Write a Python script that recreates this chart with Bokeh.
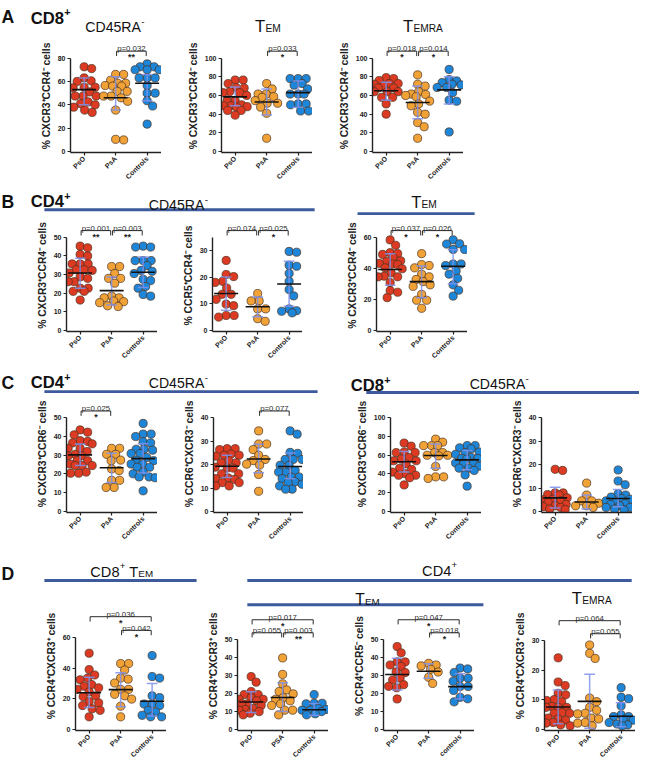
import math
from bokeh.plotting import figure
from bokeh.models import Range1d, FixedTicker, Spacer
from bokeh.layouts import row, column
from bokeh.core.properties import value
from bokeh.embed import file_html
from bokeh.resources import INLINE

SC = 0.975


def S(v):
    return int(round(v * SC))


FONT = "Liberation Sans"
INK = "#222222"
COLORS = ["#dc3a22", "#f0a236", "#1e86d8"]
EDGE = "#4a3020"
ERR_COLOR = "#7f92ec"
RULE = "#3c5a9c"

GROUPS = ["PsO", "PsA", "Controls"]

# ------------------------------------------------------------------ data
# Panel A (CD8+)
A1_PsO = [72.5, 71, 63, 60.5, 60, 55, 55, 54.5, 51, 47.5, 47.5, 47.5, 42.5, 41, 40, 38, 35.5, 33.5]
A1_PsA = [66, 66, 61, 58.5, 58.5, 56.5, 56, 56, 51.5, 51.5, 47.5, 47.5, 46, 43, 35.5, 10, 10.5]
A1_Ctrl = [75, 72.5, 72.5, 70, 70, 70, 63, 63, 63, 56.5, 50, 50, 43.5, 39, 23.5]
A1_mean = [53, 46, 58.5]
A1_lo = [40, 35.5, 43.5]
A1_hi = [63, 64, 66]

A2_PsO = [76.5, 76.5, 72.7, 68.5, 68, 64, 63, 63, 60, 54.5, 54.5, 50, 49, 49, 48, 47.5, 44, 44, 39]
A2_PsA = [72.7, 67, 61.5, 61.5, 58.7, 58, 54.5, 51.7, 51.7, 47.5, 41, 14.3]
A2_Ctrl = [78, 78, 78, 72.7, 71, 67, 61.5, 61.5, 61.5, 51, 51, 50, 43.4, 43.4]
A2_mean = [58.5, 53, 63]
A2_lo = [49, 39, 47.5]
A2_hi = [69, 67, 75.5]

A3_PsO = [79, 78, 76, 72.7, 72.7, 72, 70, 68, 68, 64, 64, 64, 58, 58, 51, 40]
A3_PsA = [82, 72, 70, 64, 61.5, 61, 60, 58.7, 54, 51, 49, 42, 40, 31, 26.6, 14.3]
A3_Ctrl = [87.8, 77, 75.5, 73.8, 72, 71.3, 68.5, 68.5, 63, 55, 53.8, 21]
A3_mean = [65, 52.5, 66]
A3_lo = [55, 35, 51]
A3_hi = [74, 70, 80]

# Panel B (CD4+)
B1_PsO = [45.3, 44.4, 40.8, 40, 35.7, 35.7, 35.7, 32.6, 32.6, 32.2, 30.8, 28.7, 27.9, 26.1, 26.1, 22.6, 22.6, 20.9, 20.9, 16.2]
B1_PsA = [34.3, 34.3, 30.5, 27.9, 27.9, 25.3, 18.3, 17.4, 17.4, 15.7, 15.3, 14.8, 13.1, 12.7]
B1_Ctrl = [45.3, 44.8, 44.8, 37.5, 37.5, 37.5, 34.8, 32.2, 31.7, 30.5, 27.4, 26.7, 23.5, 22.6, 19.2, 18.3]
B1_mean = [30.8, 21.3, 31.2]
B1_lo = [22.6, 13.5, 23]
B1_hi = [38.7, 28.7, 39.5]

B2_PsO = [26.3, 21, 20.2, 18.4, 18, 15.9, 13.5, 13.5, 11.6, 9.8, 9.2, 5.5, 5.5, 4.9]
B2_PsA = [13.8, 11, 11, 8, 8, 4.3, 3.3]
B2_Ctrl = [29.7, 29.4, 24.5, 24.1, 21.4, 18.4, 15.3, 12.9, 8, 7.3, 7.1, 6.5]
B2_mean = [13.8, 8.8, 17.4]
B2_lo = [7.5, 5, 9]
B2_hi = [20, 12.5, 26]

B3_PsO = [58.4, 54.9, 50.1, 49.5, 49, 47, 44.9, 44.5, 43.2, 42.8, 42.4, 40.3, 39.7, 37, 34.9, 34.5, 34.5, 30.8, 25.6, 24.5, 21]
B3_PsA = [49.5, 42.4, 41.8, 40.3, 36.2, 34.5, 32.8, 31.4, 29.3, 28.3, 23.1, 19.3, 19.3, 14.1]
B3_Ctrl = [58.4, 55.9, 55.7, 52.2, 52.2, 42.8, 42.8, 41.8, 38.3, 36.2, 33.5, 29.3, 25.8, 22]
B3_mean = [39.2, 31.4, 41.3]
B3_lo = [29, 21, 30]
B3_hi = [49.5, 41.5, 52]

# Panel C
C1_PsO = [43.5, 42.3, 40.9, 37.8, 37.4, 36.6, 36.1, 33.7, 33.7, 32, 30.5, 29.7, 29.7, 27.1, 27.1, 25.3, 24.5, 24.5, 24.5, 21, 20.4, 20.4]
C1_PsA = [33.7, 33.7, 30.5, 30.5, 27.4, 27.1, 22.7, 21.8, 16.6, 16.6, 12.8, 12.8]
C1_Ctrl = [47, 41.3, 41.3, 40, 37.2, 36.6, 33.2, 33.2, 32.7, 30.9, 30.9, 28.8, 27.4, 27.1, 25.3, 25.3, 23.6, 23.6, 21, 20.1, 18.4, 18.4, 18, 11]
C1_mean = [30.2, 23.3, 28.2]
C1_lo = [24.5, 15.5, 20.5]
C1_hi = [36, 31, 36.2]

C2_PsO = [26.8, 26.8, 26.4, 24.5, 24, 24, 23.6, 21.7, 20.8, 20.8, 18.9, 18.5, 18.5, 16.1, 16.1, 14.3, 14, 13.7, 12.3, 12.3, 10.9, 10.9]
C2_PsA = [34.4, 28.8, 28.8, 26.4, 24, 22.2, 21.7, 20.2, 19.8, 15.8, 8.6]
C2_Ctrl = [34.4, 33, 25.2, 24.8, 22.2, 22.2, 22.2, 19.7, 19.7, 17.5, 16.8, 16.8, 14.7, 14.7, 14, 12.6, 12.3, 11.6, 10.9, 9.5, 9.5]
C2_mean = [19.3, 22.4, 19.2]
C2_lo = [14.5, 16.5, 14]
C2_hi = [24, 28.7, 25]

C3_PsO = [73, 69.7, 63.4, 62.8, 62.8, 57.6, 55.9, 54.1, 54.1, 50.7, 46, 44.8, 42, 40.3, 38.6, 38.6, 35.9, 28.3]
C3_PsA = [77.2, 74, 70.3, 70.3, 70.3, 62.8, 62.8, 60, 60, 59.3, 48, 36.9, 36.9, 35.2]
C3_Ctrl = [70.3, 70.3, 67.9, 66.9, 63.4, 62.8, 61, 57.6, 56.6, 56.6, 55.9, 51.7, 51.7, 50.7, 48.3, 46.2, 46.2, 43.8, 39, 27]
C3_mean = [53, 59.8, 55]
C3_lo = [42, 46, 44.5]
C3_hi = [64, 72, 65]

C4_PsO = [18, 17.5, 7.9, 7.9, 7.2, 7, 5.8, 5.2, 5, 4.5, 3.8, 3, 2.4, 2, 1.7, 1, 0.8]
C4_PsA = [12.1, 7, 4.5, 4.5, 3.5, 2.4, 2.4, 1.7]
C4_Ctrl = [17.7, 13, 11.4, 7.5, 7, 6.1, 5.5, 5.2, 4.5, 3.8, 3.3, 3, 2.4, 1.7, 1.7, 1, 0.6]
C4_mean = [5.8, 4, 5.5]
C4_lo = [1.5, 1, 2]
C4_hi = [10.3, 7, 9.4]

# Panel D
D1_PsO = [49.6, 39, 35.5, 33.5, 32.4, 29.3, 28.2, 27.2, 26.2, 24.5, 22, 21.5, 18.2, 17.4, 15.7, 13.6, 12.6, 8.4]
D1_PsA = [42.9, 42.9, 38.7, 33.5, 32.8, 30.3, 26.2, 26.2, 23, 22, 19.9, 15.3, 8.4]
D1_Ctrl = [48.1, 34.5, 33.5, 22, 20.9, 16.7, 16.7, 15.7, 12.6, 11.5, 9.4, 8.4, 8.4]
D1_mean = [24, 26, 18.5]
D1_lo = [14.5, 15, 9]
D1_hi = [34, 37, 30]

D2_PsO = [29.4, 26.3, 21.1, 19.4, 19.4, 17.7, 16.8, 16.8, 16, 14.3, 14.3, 13.4, 11.7, 11.2, 10.8, 10, 9.1, 8.2]
D2_PsA = [39.7, 30.6, 25.4, 22, 21.1, 19.8, 17.7, 16.8, 16, 14.3, 13.4, 10.8, 10.8, 8.2]
D2_Ctrl = [19.4, 14.6, 14.6, 14.3, 11.7, 11.2, 10.8, 10.8, 10, 8.8, 8.2]
D2_mean = [15.3, 17.8, 11]
D2_lo = [9.5, 10, 8]
D2_hi = [21, 26, 14.5]

D3_PsO = [46, 42.5, 37.5, 37.5, 35.8, 35, 32, 31.6, 28.5, 27.5, 24.9, 24, 23.2, 17]
D3_PsA = [36.7, 35.8, 35.3, 33.4, 31.9, 29, 25.6]
D3_Ctrl = [34.1, 33.6, 31.6, 28.5, 28.5, 26.8, 23.9, 23.9, 21.7, 17.9, 17.1, 15.4]
D3_mean = [30.5, 32.3, 23.8]
D3_lo = [22, 28.5, 17]
D3_hi = [39.5, 36.5, 31]

D4_PsO = [24.1, 16, 14.8, 12.2, 11.7, 10.1, 9.8, 9.4, 7.8, 7.5, 7.5, 7.5, 5.7, 5.5, 5.5, 3.9, 3.6, 3.2, 2.4, 2.2, 1.6, 1.3]
D4_PsA = [28.4, 25.6, 23.9, 10.6, 9.4, 7.5, 6.5, 5.5, 5.3, 3.9, 3.6, 2.4, 2.2, 1.3]
D4_Ctrl = [14.1, 10.9, 10.4, 8, 5, 4.4, 4.4, 3.4, 3.2, 2.4, 1.9, 1.6, 1.3]
D4_mean = [7.6, 9.5, 4.5]
D4_lo = [2, 0.5, 1]
D4_hi = [13.3, 18.6, 9]

# tick sets
T80 = [0, 20, 40, 60, 80]
T100 = [0, 20, 40, 60, 80, 100]
T50 = [0, 10, 20, 30, 40, 50]
T30 = [0, 10, 20, 30]
T40 = [0, 10, 20, 30, 40]
T60 = [0, 20, 40, 60]

# brackets: (group i, group j, tier, p text, stars)
A1_br = [(2, 3, 0, "p=0.032", "**")]
A2_br = [(2, 3, 0, "p=0.033", "*")]
A3_br = [(1, 2, 0, "p=0.018", "*"), (2, 3, 0, "p=0.014", "*")]
B1_br = [(1, 2, 0, "p=0.001", "**"), (2, 3, 0, "p=0.003", "**")]
B2_br = [(1, 2, 0, "p=0.074", ""), (2, 3, 0, "p=0.025", "*")]
B3_br = [(1, 2, 0, "p=0.037", "*"), (2, 3, 0, "p=0.026", "*")]
C1_br = [(1, 2, 0, "p=0.025", "*")]
C2_br = [(2, 3, 0, "p=0.077", "")]
D1_br = [(1, 3, 1, "p=0.036", "*"), (2, 3, 0, "p=0.042", "*")]
D2_br = [(1, 3, 1, "p=0.017", "*"), (1, 2, 0, "p=0.055", ""), (2, 3, 0, "p=0.003", "**")]
D3_br = [(1, 3, 1, "p=0.047", "*"), (2, 3, 0, "p=0.018", "*")]
D4_br = [(1, 3, 1, "p=0.064", ""), (2, 3, 0, "p=0.055", "")]

LBL_X3R4 = "% CXCR3\u207aCCR4\u207b cells"
LBL_R5R4 = "% CCR5\u207aCCR4\u207b cells"
LBL_X3R6 = "% CXCR3\u207aCCR6\u207b cells"
LBL_R6X3 = "% CCR6\u207aCXCR3\u207b cells"
LBL_R4X3 = "% CCR4\u207aCXCR3\u207a cells"
LBL_R4R5 = "% CCR4\u207aCCR5\u207b cells"

# ------------------------------------------------------------------ helpers
UX = 32.3  # reference px per category


def swarm(vals, ux, uy, d, maxoff=12.0):
    order = sorted(range(len(vals)), key=lambda i: vals[i], reverse=True)
    placed = []
    offs = [0.0] * len(vals)
    cands = [0.0]
    for k in range(1, 60):
        cands += [k * 0.5, -k * 0.5]
    for i in order:
        y = vals[i] * uy
        best = None
        fallback = None
        for c in cands:
            if abs(c) > maxoff:
                break
            clash = min([math.hypot(c - px, y - py) for px, py in placed] or [1e9])
            if clash >= d * 0.92:
                best = c
                break
            if fallback is None or clash > fallback[0] + 0.3:
                fallback = (clash, c)
        if best is None:
            best = fallback[1]
        placed.append((best, y))
        offs[i] = best / ux
    return offs


def fs(px):
    return value(f"{px * SC:.1f}px")


def make_panel(vals, means, lo, hi, yticks, ytop, ylabel, xlabels, brackets, geo):
    left, axis, right, ftop, fbot, zero_px, top_px = geo
    W = S(right) - S(left)
    H = S(fbot) - S(ftop)
    bl = S(axis) - S(left)
    fw = S(axis + 93) - S(axis)
    br = W - bl - fw
    fh = S(zero_px + 1) - S(ftop)
    bb = H - fh
    py = (zero_px - top_px) * SC / ytop
    y_end = (zero_px * SC - S(ftop)) / py
    y_start = y_end - fh / py
    ux = UX * SC
    x_start = 1 - 14 * SC / ux
    x_end = x_start + fw / ux
    p = figure(width=W, height=H, x_range=Range1d(x_start, x_end), y_range=Range1d(y_start, y_end),
               output_backend="svg", toolbar_location=None, tools="",
               min_border_left=bl, min_border_right=br, min_border_top=0, min_border_bottom=bb)
    p.outline_line_color = None
    p.grid.grid_line_color = None
    p.background_fill_alpha = 0
    p.border_fill_alpha = 0
    for ax in (p.xaxis[0], p.yaxis[0]):
        ax.axis_line_width = 1.4
        ax.axis_line_color = INK
        ax.major_tick_line_width = 1.2
        ax.major_tick_line_color = INK
        ax.major_tick_in = 0
        ax.major_tick_out = 3
        ax.minor_tick_line_color = None
        ax.major_label_text_font = FONT
        ax.major_label_text_font_style = "bold"
        ax.major_label_text_font_size = f"{7.2 * SC:.1f}px"
        ax.major_label_text_color = INK
        ax.major_label_standoff = 2
    p.xaxis.ticker = FixedTicker(ticks=[1, 2, 3])
    p.xaxis.major_label_overrides = {1: xlabels[0], 2: xlabels[1], 3: xlabels[2]}
    p.xaxis.major_label_orientation = math.pi / 4
    p.yaxis.ticker = FixedTicker(ticks=yticks)
    p.yaxis.bounds = (y_start, ytop)
    p.yaxis.axis_label = ylabel
    p.yaxis.axis_label_text_font = FONT
    p.yaxis.axis_label_text_font_style = "bold"
    p.yaxis.axis_label_text_font_size = f"{10.6 * SC:.1f}px"
    p.yaxis.axis_label_text_color = INK
    p.yaxis.axis_label_standoff = 3

    d = 8.4 * SC
    for g in range(3):
        v = vals[g]
        offs = swarm(v, ux, py, d)
        xs = [g + 1 + o for o in offs]
        p.scatter(xs, v, size=d, fill_color=COLORS[g], line_color=EDGE, line_width=0.7)
    cx = [1, 2, 3]
    p.segment(x0=cx, y0=lo, x1=cx, y1=hi, line_color=ERR_COLOR, line_width=1.5, line_alpha=0.85)
    cw = 0.17
    p.segment(x0=[c - cw for c in cx], y0=lo, x1=[c + cw for c in cx], y1=lo,
              line_color=ERR_COLOR, line_width=1.5, line_alpha=0.85)
    p.segment(x0=[c - cw for c in cx], y0=hi, x1=[c + cw for c in cx], y1=hi,
              line_color=ERR_COLOR, line_width=1.5, line_alpha=0.85)
    mw = 0.38
    p.segment(x0=[c - mw for c in cx], y0=means, x1=[c + mw for c in cx], y1=means,
              line_color="#111111", line_width=1.6)

    for (i, j, tier, ptxt, stars) in brackets:
        lvl = ytop + (7 if tier == 0 else 21) * SC / py
        leg = 5 * SC / py
        xi, xj = i + 0.03, j - 0.03
        p.line([xi, xi, xj, xj], [lvl - leg, lvl, lvl, lvl - leg], line_color="#2a2a2a", line_width=1.0)
        p.text(x=[(i + j) / 2], y=[lvl + 2.4 * SC / py], text=[ptxt], text_align="center",
               text_baseline="alphabetic", text_font=value(FONT), text_font_size=fs(8),
               text_color="#2a2a2a")
        if stars:
            p.text(x=[(i + j) / 2], y=[lvl - 1.2 * SC / py], text=[stars], text_align="center",
                   text_baseline="top", text_font=value(FONT), text_font_size=fs(9),
                   text_font_style="bold", text_color="#222222")
    return p


CW_REG = {'C': .722, 'D': .722, '4': .556, '5': .556, '8': .556, 'R': .722, 'A': .667, 'T': .611,
          'E': .667, 'M': .833, '+': .584, '-': .333, ' ': .278, 'B': .667}
CW_BOLD = {'A': .722, 'B': .722, 'C': .722, 'D': .722, '4': .556, '8': .556, '+': .584}


def twidth(t, size, bold):
    tab = CW_BOLD if bold else CW_REG
    return sum(tab.get(c, 0.6) for c in t) * size


def htext(p, x, y, t, size, bold, align):
    p.text(x=[x], y=[y], text=[t], text_align=align, text_baseline="alphabetic",
           text_font=value(FONT), text_font_size=fs(size),
           text_font_style="bold" if bold else "normal", text_color="#111111")


def make_header(top, bot, texts, rules):
    """texts: (groups, x, baseline, anchor); a group = (big, big_size, small, small_size, small_dy, bold).
    Within a group the big text is right-aligned and the small text left-aligned at the same junction."""
    p = figure(width=S(655), height=S(bot) - S(top), x_range=Range1d(0, 655), y_range=Range1d(bot, top),
               output_backend="svg", toolbar_location=None, tools="",
               x_axis_type=None, y_axis_type=None,
               min_border_left=0, min_border_right=0, min_border_top=0, min_border_bottom=0)
    p.outline_line_color = None
    p.grid.grid_line_color = None
    p.background_fill_alpha = 0
    p.border_fill_alpha = 0
    for (x0, y0, x1) in rules:
        p.segment(x0=[x0], y0=[y0], x1=[x1], y1=[y0], line_color=RULE, line_width=3 * SC)
    for (groups, x, base, anchor) in texts:
        gap = 4.0
        widths = [twidth(b, bs, bo) + (twidth(sm, ss, bo) if sm else 0) for (b, bs, sm, ss, dy, bo) in groups]
        total = sum(widths) + gap * (len(groups) - 1)
        cx = x - total / 2 if anchor == "center" else x
        for (g, w) in zip(groups, widths):
            b, bs, sm, ss, dy, bo = g
            junction = cx + twidth(b, bs, bo)
            htext(p, junction, base, b, bs, bo, "right")
            if sm:
                htext(p, junction + 0.3, base - dy, sm, ss, bo, "left")
            cx += w + gap
    return p


def cd45(x, base):
    return ([("CD45RA", 14.5, "-", 10, 5, False)], x, base, "center")


def tsub(x, base, sub, big=17, small=10.5):
    return ([("T", big, sub, small, -1.5, False)], x, base, "center")


def boldcd(txt, x, base):
    return ([(txt, 17, "+", 11, 6, True)], x, base, "left")


def letter(ch, base):
    return ([(ch, 18, "", 0, 0, True)], 1, base, "left")


# ------------------------------------------------------------------ headers
hA = make_header(0, 40, [letter("A", 17), boldcd("CD8", 31, 18), cd45(117, 27),
                         tsub(274, 27, "EM"), tsub(433, 27, "EMRA")], [])
hB = make_header(183, 225, [letter("B", 207), boldcd("CD4", 31, 207), cd45(182, 210),
                            tsub(434, 208, "EM")],
                 [(45, 215, 322), (366, 219, 486)])
hC = make_header(368, 405, [letter("C", 392), boldcd("CD4", 31, 392), cd45(182, 392),
                            boldcd("CD8", 359, 395), cd45(511, 393)],
                 [(45, 401, 325), (375, 402, 655)])
hD = make_header(555, 630, [letter("D", 588),
                            ([("CD8", 15, "+", 10, 6, False), ("T", 15, "EM", 10, -2, False)], 124, 586, "center"),
                            ([("CD4", 15, "+", 10, 6, False)], 450, 585, "center"),
                            tsub(376, 615, "EM", 16, 10), tsub(606, 614, "EMRA", 17, 10.5)],
                 [(45, 595, 201), (253, 595, 647), (253, 620, 495)])

# ------------------------------------------------------------------ panels
G3 = GROUPS
A1 = make_panel([A1_PsO, A1_PsA, A1_Ctrl], A1_mean, A1_lo, A1_hi, T80, 80, LBL_X3R4, G3, A1_br,
                (0, 72, 165, 40, 200, 155, 59))
A2 = make_panel([A2_PsO, A2_PsA, A2_Ctrl], A2_mean, A2_lo, A2_hi, T100, 100, LBL_X3R4, G3, A2_br,
                (165, 227, 320, 40, 200, 155, 59))
A3 = make_panel([A3_PsO, A3_PsA, A3_Ctrl], A3_mean, A3_lo, A3_hi, T100, 100, LBL_X3R4, G3, A3_br,
                (320, 382, 475, 40, 200, 155, 59))

B1 = make_panel([B1_PsO, B1_PsA, B1_Ctrl], B1_mean, B1_lo, B1_hi, T50, 50, LBL_X3R4, G3, B1_br,
                (0, 68, 161, 225, 380, 338, 243))
B2 = make_panel([B2_PsO, B2_PsA, B2_Ctrl], B2_mean, B2_lo, B2_hi, T30, 35, LBL_R5R4, G3, B2_br,
                (161, 217, 310, 225, 380, 338, 243))
B3 = make_panel([B3_PsO, B3_PsA, B3_Ctrl], B3_mean, B3_lo, B3_hi, T60, 60, LBL_X3R4, G3, B3_br,
                (310, 386, 479, 225, 380, 338, 243))

C1 = make_panel([C1_PsO, C1_PsA, C1_Ctrl], C1_mean, C1_lo, C1_hi, T50, 50, LBL_X3R6, G3, C1_br,
                (0, 68, 161, 405, 565, 524, 428))
C2 = make_panel([C2_PsO, C2_PsA, C2_Ctrl], C2_mean, C2_lo, C2_hi, T40, 40, LBL_R6X3, G3, C2_br,
                (161, 218, 311, 405, 565, 524, 428))
C3 = make_panel([C3_PsO, C3_PsA, C3_Ctrl], C3_mean, C3_lo, C3_hi, T100, 100, LBL_X3R6, G3, [],
                (311, 400, 493, 405, 565, 524, 428))
C4 = make_panel([C4_PsO, C4_PsA, C4_Ctrl], C4_mean, C4_lo, C4_hi, T40, 40, LBL_R6X3, G3, [],
                (493, 555, 648, 405, 565, 524, 428))

RD_TOP = 616
D1 = make_panel([D1_PsO, D1_PsA, D1_Ctrl], D1_mean, D1_lo, D1_hi, T60, 60, LBL_R4X3, G3, D1_br,
                (0, 77, 170, RD_TOP, 790, 748, 653))
D2 = make_panel([D2_PsO, D2_PsA, D2_Ctrl], D2_mean, D2_lo, D2_hi, T50, 50, LBL_R4X3,
                ["PsO", "PSA", "Controls"], D2_br, (170, 243, 336, RD_TOP, 790, 754, 657))
D3 = make_panel([D3_PsO, D3_PsA, D3_Ctrl], D3_mean, D3_lo, D3_hi, T50, 50, LBL_R4R5,
                ["PsO", "PsA", "controls"], D3_br, (336, 393, 486, RD_TOP, 790, 754, 657))
D4 = make_panel([D4_PsO, D4_PsA, D4_Ctrl], D4_mean, D4_lo, D4_hi, T30, 30, LBL_R4X3, G3, D4_br,
                (486, 558, 651, RD_TOP, 790, 754, 658))

# ------------------------------------------------------------------ layout
spans = [(0, 40), (40, 200), (183, 225), (225, 380), (368, 405), (405, 565), (555, 630), (RD_TOP, 790)]
margins = [0]
for k in range(1, len(spans)):
    margins.append(S(spans[k][0]) - S(spans[k - 1][1]))

rA = row(A1, A2, A3, Spacer(width=S(655) - S(475), height=S(200) - S(40)), margin=(margins[1], 0, 0, 0))
rB = row(B1, B2, B3, Spacer(width=S(655) - S(479), height=S(380) - S(225)), margin=(margins[3], 0, 0, 0))
rC = row(C1, C2, C3, C4, Spacer(width=S(655) - S(648), height=S(565) - S(405)), margin=(margins[5], 0, 0, 0))
rD = row(D1, D2, D3, D4, Spacer(width=S(655) - S(651), height=S(790) - S(RD_TOP)), margin=(margins[7], 0, 0, 0))
hB.margin = (margins[2], 0, 0, 0)
hC.margin = (margins[4], 0, 0, 0)
hD.margin = (margins[6], 0, 0, 0)

layout = column(hA, rA, hB, rB, hC, rC, hD, rD)

open("out.html", "w").write(file_html(layout, INLINE))
